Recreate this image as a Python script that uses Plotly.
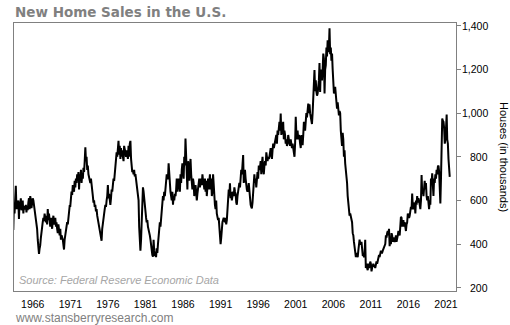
import pandas as pd
import plotly.graph_objects as go

# Monthly new home sales (thousands, SAAR)
sales_1960s = [  # from 1963-06
    465, 590, 540, 610, 667, 560, 590,
    560, 600, 515, 590, 580, 610, 555, 570, 600, 540, 575, 565,
    560, 580, 545, 570, 555, 590, 610, 560, 620, 600, 565, 585,
    610, 600, 580, 560, 545, 520, 480, 470, 420, 395, 355, 380,
    395, 430, 460, 470, 500, 520, 505, 540, 520, 500, 530, 490,
    560, 510, 540, 500, 480, 520, 495, 470, 510, 530, 490, 500,
    520, 480, 500, 470, 450, 490, 460, 440, 470, 420, 440, 430,
]
sales_1970s = [
    420, 395, 375, 420, 440, 460, 480, 500, 490, 530, 550, 575,
    575, 600, 640, 625, 670, 650, 640, 690, 660, 700, 680, 720,
    700, 730, 650, 720, 690, 740, 680, 720, 700, 750, 730, 780,
    843, 780, 800, 740, 760, 720, 700, 690, 680, 700, 660, 640,
    620, 590, 600, 570, 580, 550, 560, 530, 510, 490, 470, 455,
    440, 430, 415, 470, 500, 530, 550, 560, 580, 570, 600, 620,
    670, 610, 630, 600, 580, 610, 650, 640, 680, 700, 690, 720,
    750, 770, 820, 800, 840, 873, 810, 850, 790, 840, 800, 830,
    800, 780, 850, 840, 820, 800, 830, 810, 790, 850, 800, 860,
    873, 790, 760, 730, 740, 720, 740, 710, 720, 700, 680, 650,
]
sales_1980s = [
    620, 600, 480, 400, 370, 420, 520, 610, 660, 640, 600, 560,
    540, 520, 500, 510, 480, 470, 450, 440, 420, 390, 370, 350,
    342, 420, 370, 345, 360, 340, 380, 360, 400, 440, 470, 500,
    480, 520, 560, 590, 620, 600, 640, 620, 660, 680, 720, 700,
    700, 770, 720, 660, 640, 620, 600, 640, 580, 620, 600, 630,
    620, 650, 700, 640, 660, 700, 680, 640, 720, 680, 740, 770,
    740, 700, 800, 760, 884, 760, 720, 650, 780, 720, 690, 760,
    790, 720, 690, 650, 700, 680, 620, 660, 670, 640, 600, 630,
    650, 680, 700, 660, 690, 700, 670, 720, 690, 680, 650, 700,
    640, 690, 620, 660, 700, 650, 680, 720, 650, 700, 620, 640,
]
sales_1990s = [
    720, 640, 620, 580, 560, 600, 540, 530, 510, 520, 480, 460,
    400, 430, 480, 500, 510, 520, 510, 500, 520, 490, 510, 560,
    600, 650, 620, 678, 610, 640, 600, 620, 640, 620, 660, 640,
    630, 590, 580, 620, 640, 650, 680, 660, 700, 740, 720, 780,
    808, 680, 720, 740, 700, 660, 650, 640, 650, 680, 640, 600,
    580, 570, 563, 590, 640, 700, 720, 680, 700, 660, 720, 730,
    700, 760, 740, 750, 780, 720, 770, 800, 740, 720, 760, 780,
    760, 820, 800, 780, 800, 790, 800, 820, 840, 810, 790, 830,
    861, 840, 860, 870, 880, 900, 860, 920, 900, 950, 960, 920,
    998, 900, 920, 940, 960, 880, 920, 900, 860, 880, 850, 860,
]
sales_2000s = [
    900, 880, 860, 850, 880, 860, 840, 860, 845, 820, 800, 860,
    983, 900, 880, 920, 880, 900, 890, 860, 840, 900, 880, 853,
    900, 960, 940, 920, 960, 1000, 980, 1020, 1044, 1000, 1040, 1000,
    980, 953, 950, 1000, 1060, 1150, 1197, 1100, 1150, 1100, 1080, 1090,
    1120, 1150, 1230, 1097, 1200, 1180, 1150, 1200, 1273, 1250, 1090, 1200,
    1220, 1300, 1260, 1334, 1280, 1300, 1389, 1270, 1300, 1240, 1273, 1200,
    1150, 1090, 1100, 1120, 1090, 1070, 1020, 1050, 1020, 990, 1010, 1000,
    920, 880, 850, 910, 880, 800, 830, 770, 740, 720, 680, 620,
    590, 560, 530, 540, 520, 500, 500, 450, 440, 410, 390, 370,
    340, 360, 350, 340, 370, 410, 420, 400, 400, 410, 360, 350,
]
sales_2010s = [
    350, 340, 360, 420, 290, 310, 290, 280, 310, 290, 300, 320,
    310, 275, 290, 300, 310, 300, 300, 290, 310, 320, 310, 330,
    330, 350, 340, 360, 370, 360, 360, 370, 380, 380, 390, 400,
    440, 430, 450, 460, 440, 470, 390, 420, 400, 450, 440, 410,
    430, 420, 410, 420, 440, 410, 420, 440, 460, 450, 440, 480,
    525, 520, 480, 500, 510, 480, 500, 480, 460, 490, 500, 540,
    520, 520, 530, 560, 570, 560, 632, 570, 560, 580, 590, 540,
    600, 580, 620, 590, 610, 600, 580, 560, 600, 716, 630, 650,
    620, 650, 690, 650, 680, 620, 600, 620, 571, 560, 600, 580,
    700, 680, 724, 680, 620, 700, 680, 720, 700, 740, 720, 754,
]
sales_2020s = [
    760, 730, 620, 586, 700, 830, 975, 965, 960, 930, 860, 880,
    930, 994, 880, 860, 790, 740, 708,
]
decade_starts = ["1963-06-01", "1970-01-01", "1980-01-01", "1990-01-01",
                 "2000-01-01", "2010-01-01", "2020-01-01"]

x_tick_dates = ["1966-01-01", "1971-01-01", "1976-01-01", "1981-01-01",
                "1986-01-01", "1991-01-01", "1996-01-01", "2001-01-01",
                "2006-01-01", "2011-01-01", "2016-01-01", "2021-01-01"]
x_tick_text = ["1966", "1971", "1976", "1981", "1986", "1991", "1996",
               "2001", "2006", "2011", "2016", "2021"]
y_tick_vals = [200, 400, 600, 800, 1000, 1200, 1400]
y_tick_text = ["200", "400", "600", "800", "1,000", "1,200", "1,400"]

decades = [sales_1960s, sales_1970s, sales_1980s, sales_1990s,
           sales_2000s, sales_2010s, sales_2020s]
dates, values = [], []
for start, vals in zip(decade_starts, decades):
    dates.extend(pd.date_range(start, periods=len(vals), freq="MS"))
    values.extend(vals)

W, H = 510, 325
L, R, T, B = 14, 54, 23, 34
pw, ph = W - L - R, H - T - B

def px_x(p):
    return (p - L) / pw

def px_y(p):
    return (H - B - p) / ph

fig = go.Figure()
fig.add_trace(go.Scatter(x=dates, y=values, mode="lines",
                         line=dict(color="black", width=2),
                         hoverinfo="skip", showlegend=False))

GRAY = "#808080"
fig.update_layout(
    width=W, height=H,
    margin=dict(l=L, r=R, t=T, b=B, pad=0),
    paper_bgcolor="white", plot_bgcolor="white",
    showlegend=False,
    xaxis=dict(type="date", range=["1963-07-05", "2022-05-01"],
               showgrid=False, zeroline=False,
               showline=True, linecolor=GRAY, linewidth=1, mirror=True,
               tickvals=x_tick_dates, ticktext=x_tick_text,
               ticks="outside", ticklen=3, tickcolor="rgba(0,0,0,0)",
               tickfont=dict(family="Liberation Sans", size=10.5, color="black")),
    yaxis=dict(range=[185, 1413], side="right",
               showgrid=False, zeroline=False,
               showline=True, linecolor=GRAY, linewidth=1, mirror=True,
               tickvals=y_tick_vals, ticks="outside", ticklen=4,
               tickcolor=GRAY, showticklabels=False),
)

anns = []
for v, t in zip(y_tick_vals, y_tick_text):
    anns.append(dict(x=px_x(490), xref="paper", y=v, yref="y", text=t,
                     showarrow=False, xanchor="right", yanchor="middle",
                     font=dict(family="Liberation Sans", size=10.5, color="black")))
anns.append(dict(x=px_x(13), xref="paper", y=px_y(12), yref="paper",
                 text="<b>New Home Sales in the U.S.</b>", showarrow=False,
                 xanchor="left", yanchor="middle",
                 font=dict(family="DejaVu Sans", size=13.5, color=GRAY)))
anns.append(dict(x=px_x(17), xref="paper", y=px_y(279.5), yref="paper",
                 text="<i>Source: Federal Reserve Economic Data</i>", showarrow=False,
                 xanchor="left", yanchor="middle",
                 font=dict(family="Liberation Sans", size=11, color="#a6a6a6")))
anns.append(dict(x=px_x(13), xref="paper", y=px_y(317.5), yref="paper",
                 text="www.stansberryresearch.com", showarrow=False,
                 xanchor="left", yanchor="middle",
                 font=dict(family="Liberation Sans", size=12, color=GRAY)))
anns.append(dict(x=px_x(504), xref="paper", y=0.5, yref="paper",
                 text="Houses (in thousands)", showarrow=False, textangle=90,
                 xanchor="center", yanchor="middle",
                 font=dict(family="Liberation Sans", size=11, color="black")))
fig.update_layout(annotations=anns)

fig.write_html("out.html")
